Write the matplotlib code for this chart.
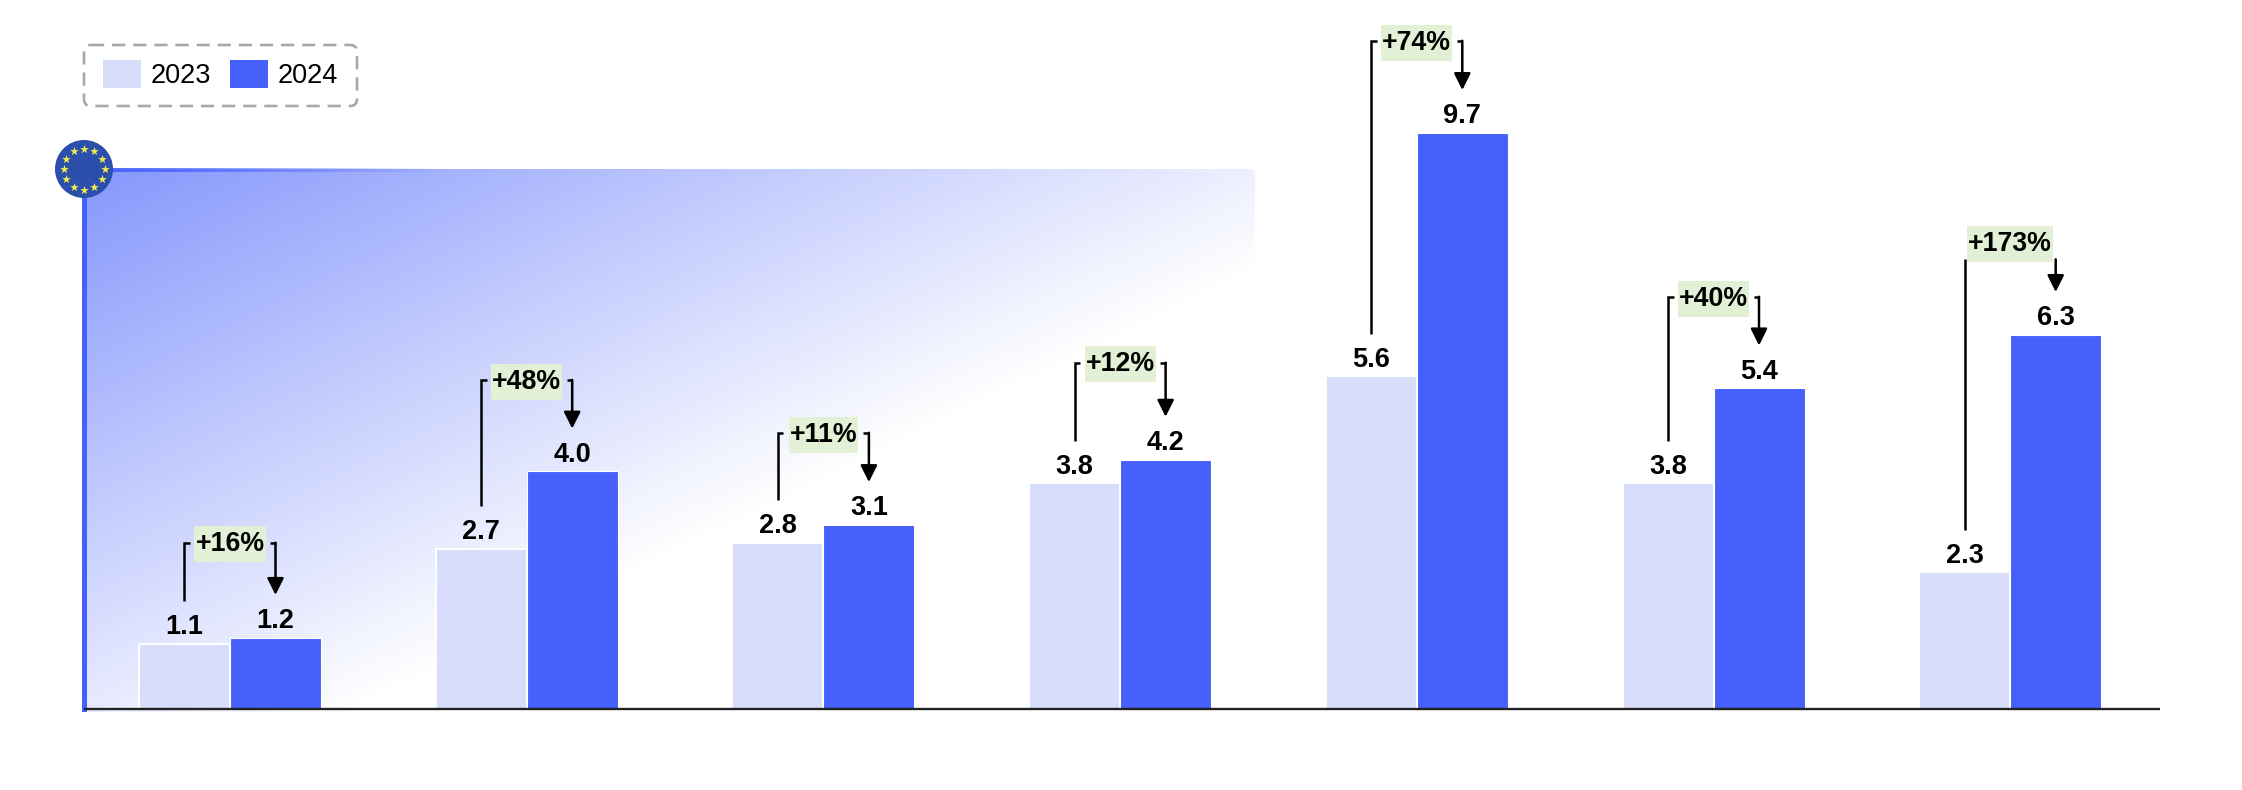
#!/bin/env python3
import numpy as np
import matplotlib
matplotlib.use("Agg")
import matplotlib.pyplot as plt
from matplotlib.patches import Circle, FancyBboxPatch, Rectangle

plt.rcParams["font.family"] = ["Liberation Sans", "DejaVu Sans"]

years = ["2023", "2024"]
values_2023 = [1.1, 2.7, 2.8, 3.8, 5.6, 3.8, 2.3]
values_2024 = [1.2, 4.0, 3.1, 4.2, 9.7, 5.4, 6.3]
growth_labels = ["+16%", "+48%", "+11%", "+12%", "+74%", "+40%", "+173%"]
bracket_levels = [2.80, 5.54, 4.65, 5.83, 11.25, 6.94, 7.57]
pill_levels = [2.77, 5.51, 4.62, 5.80, 11.22, 6.91, 7.83]
has_stub = [True, True, True, True, True, True, False]

LIGHT = "#d7ddfb"
BLUE = "#4560fb"
PILL = "#e2f1d5"

W, H = 2242, 790
BASE_Y = 709
UNIT = 59.4  # px per value unit
GROUP_X = 230
GROUP_STEP = 296.7
BAR_W = 91 / GROUP_STEP

fig = plt.figure(figsize=(W / 100, H / 100), dpi=100, facecolor="white")

# decorations in pixel coordinates
deco = fig.add_axes([0, 0, 1, 1], zorder=0)
deco.set_xlim(0, W)
deco.set_ylim(H, 0)
deco.axis("off")

# diagonal gradient behind the bars
gx0, gx1, gy0, gy1 = 84, 1261, 169, 712
xx, yy = np.meshgrid(np.linspace(gx0, gx1, 600), np.linspace(gy0, gy1, 300))
t = ((xx - gx0) * 306 + (yy - gy0) * 627) / (295146 * 1.43)
rgba = np.zeros(xx.shape + (4,))
rgba[..., :3] = matplotlib.colors.to_rgb(BLUE)
rgba[..., 3] = np.clip(1 - t, 0, 1) * 0.66
img = deco.imshow(rgba, extent=(gx0, gx1, gy1, gy0), aspect="auto", zorder=1, interpolation="bilinear")
clip = FancyBboxPatch((gx0, gy0), gx1 - gx0 - 6, gy1 - gy0, boxstyle="round,pad=0,rounding_size=6",
                      transform=deco.transData, fc="none", ec="none")
deco.add_patch(clip)
img.set_clip_path(clip)

# top edge fades out, left edge stays solid
edge = np.zeros((1, 400, 4))
edge[..., :3] = matplotlib.colors.to_rgb(BLUE)
edge[..., 3] = np.clip(1 - np.linspace(0, 1.6, 400), 0, 1)
deco.imshow(edge, extent=(84, 660, 172, 168), aspect="auto", zorder=2)
deco.add_patch(Rectangle((81.5, 169), 5, 543, fc=BLUE, ec="none", zorder=2))
deco.set_xlim(0, W)
deco.set_ylim(H, 0)

# EU flag
deco.add_patch(Circle((84, 169), 29, fc="#2c4fab", ec="none", zorder=3))
angles = np.deg2rad(np.arange(0, 360, 30))
deco.scatter(84 + 20.5 * np.cos(angles), 169 + 20.5 * np.sin(angles), marker="*", s=42,
             c="#f4ef4e", linewidths=0, zorder=4)

# legend
deco.add_patch(FancyBboxPatch((84, 45), 273, 61, boxstyle="round,pad=0,rounding_size=7",
                              fc="none", ec="#a8a8a8", lw=1.9, ls=(0, (5, 3)), zorder=3))
for sx, tx, col, year in zip([103, 230], [151, 278], [LIGHT, BLUE], years):
    deco.add_patch(Rectangle((sx, 60), 38, 28, fc=col, ec="none", zorder=3))
    deco.text(tx, 76, year, fontsize=19.5, va="center", ha="left", color="black", zorder=3)

# chart
ax = fig.add_axes([0, 0, 1, 1], zorder=1)
ax.patch.set_alpha(0)
ax.set_xlim(-GROUP_X / GROUP_STEP, (W - GROUP_X) / GROUP_STEP)
ax.set_ylim(-(H - BASE_Y) / UNIT, BASE_Y / UNIT)
ax.axis("off")

x = np.arange(len(values_2023))
ax.bar(x - BAR_W / 2, values_2023, BAR_W, color=LIGHT, edgecolor="white", linewidth=1.4, zorder=2)
ax.bar(x + BAR_W / 2, values_2024, BAR_W, color=BLUE, edgecolor="white", linewidth=0.8, zorder=2)
ax.plot([-146 / GROUP_STEP, (2160 - GROUP_X) / GROUP_STEP], [0, 0], color="#222222", lw=1.7, zorder=3,
        solid_capstyle="butt")

GAP = 0.72  # space kept above a bar for its label
STUB = 5.5 / GROUP_STEP
PILL_H = 36 / UNIT
renderer = fig.canvas.get_renderer()
for i in x:
    xl, xr = i - BAR_W / 2, i + BAR_W / 2
    v0, v1 = values_2023[i], values_2024[i]
    for xp, v in ((xl, v0), (xr, v1)):
        ax.annotate(f"{v:.1f}", (xp, v), xytext=(0, 7), textcoords="offset points", ha="center",
                    va="baseline", fontsize=19.5, fontweight="bold", color="black", zorder=5)

    level = bracket_levels[i]
    lx = [xl, xl + STUB] if has_stub[i] else [xl]
    ly = [level, level] if has_stub[i] else [level]
    ax.plot([xl] + lx, [v0 + GAP] + ly, color="black", lw=1.8, solid_joinstyle="miter",
            solid_capstyle="butt", zorder=4)
    if has_stub[i]:
        ax.plot([xr - STUB, xr], [level, level], color="black", lw=1.8, solid_capstyle="butt", zorder=4)
    ax.annotate("", xy=(xr, v1 + GAP), xytext=(xr, level),
                arrowprops=dict(arrowstyle="-|>,head_width=0.28,head_length=0.56", color="black", lw=1.8,
                                shrinkA=0, shrinkB=0, mutation_scale=18), zorder=4)

    label = ax.text(i, pill_levels[i], growth_labels[i], ha="center", va="center", fontsize=19.3,
                    fontweight="bold", color="black", zorder=5)
    pill_w = (label.get_window_extent(renderer).width + 2) / GROUP_STEP
    ax.add_patch(Rectangle((i - pill_w / 2, pill_levels[i] - PILL_H / 2), pill_w, PILL_H, fc=PILL, ec="none",
                           zorder=4.5))

fig.savefig("out.png", dpi=100)
